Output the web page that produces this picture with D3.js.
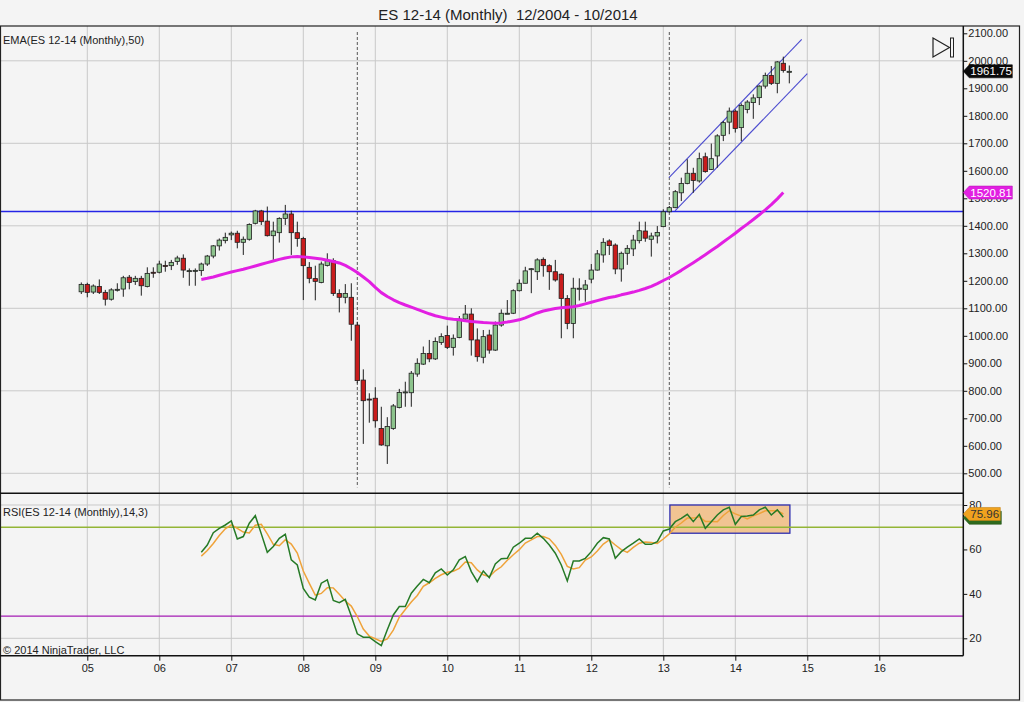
<!DOCTYPE html>
<html>
<head>
<meta charset="utf-8">
<script src="https://cdn.jsdelivr.net/npm/d3@7"></script>
<style>
  html, body { margin: 0; padding: 0; background: #f4f4f4; }
  svg { display: block; font-family: "Liberation Sans", Arial, sans-serif; }
</style>
</head>
<body>
<div id="chart"></div>
<script>
// one bar per month, first bar = Dec 2004, last = Oct 2014
const firstMonth = new Date(2004, 11, 1)

const open = [
  1160, 1187, 1159, 1179, 1158, 1133, 1167, 1170, 1213, 1197, 1209, 1179, 1231, 1231, 1256, 1255, 1270, 1282, 1237, 1237,
  1237, 1261, 1290, 1327, 1346, 1367, 1373, 1340, 1351, 1409, 1454, 1417, 1364, 1375, 1427, 1443, 1375, 1354, 1249, 1208,
  1194, 1256, 1273, 1154, 1140, 1140, 1039, 839, 770, 773, 663, 600, 663, 739, 794, 793, 861, 897, 936, 916,
  976, 1001, 958, 994, 1061, 1079, 985, 922, 1003, 948, 1039, 1082, 1082, 1164, 1191, 1241, 1233, 1278, 1255, 1233,
  1224, 1136, 1045, 1173, 1169, 1206, 1239, 1294, 1345, 1330, 1243, 1300, 1316, 1346, 1381, 1351, 1363, 1397, 1451, 1466,
  1520, 1554, 1591, 1563, 1651, 1605, 1654, 1729, 1777, 1817, 1757, 1823, 1848, 1866, 1908, 1947, 1918, 1991, 1960
]
const high = [
  1194, 1193, 1187, 1205, 1167, 1173, 1191, 1218, 1221, 1218, 1218, 1249, 1249, 1273, 1273, 1276, 1291, 1296, 1245, 1245,
  1266, 1294, 1330, 1354, 1375, 1379, 1382, 1361, 1409, 1458, 1458, 1470, 1415, 1431, 1476, 1455, 1415, 1360, 1268, 1255,
  1270, 1300, 1282, 1169, 1188, 1191, 1051, 878, 791, 813, 742, 704, 752, 807, 833, 872, 918, 961, 985, 994,
  1009, 1037, 1005, 1072, 1112, 1100, 1027, 1021, 1022, 1052, 1096, 1130, 1169, 1205, 1251, 1246, 1282, 1285, 1260, 1276,
  1227, 1148, 1211, 1209, 1203, 1261, 1312, 1355, 1351, 1336, 1306, 1330, 1367, 1415, 1415, 1375, 1399, 1460, 1472, 1530,
  1575, 1642, 1611, 1666, 1666, 1699, 1733, 1781, 1830, 1823, 1845, 1857, 1878, 1911, 1957, 1981, 1999, 2015, 1983
]
const low = [
  1152, 1140, 1152, 1152, 1110, 1128, 1161, 1142, 1169, 1185, 1146, 1176, 1211, 1227, 1233, 1239, 1258, 1211, 1182, 1182,
  1218, 1254, 1282, 1310, 1336, 1348, 1318, 1294, 1346, 1405, 1403, 1361, 1276, 1339, 1403, 1294, 1324, 1130, 1191, 1129,
  1191, 1252, 1145, 1085, 1118, 982, 827, 607, 684, 666, 600, 534, 658, 736, 742, 742, 851, 894, 904, 912,
  967, 952, 928, 991, 1058, 928, 906, 900, 935, 945, 1033, 1079, 1079, 1161, 1191, 1155, 1203, 1215, 1167, 1197,
  991, 1024, 991, 1128, 1124, 1191, 1237, 1266, 1294, 1224, 1197, 1258, 1290, 1336, 1342, 1288, 1336, 1395, 1448, 1464,
  1490, 1551, 1520, 1557, 1593, 1603, 1611, 1708, 1733, 1739, 1708, 1809, 1789, 1839, 1899, 1912, 1882, 1957, 1918
]
const close = [
  1187, 1158, 1181, 1158, 1133, 1167, 1169, 1211, 1194, 1209, 1182, 1227, 1230, 1261, 1255, 1267, 1283, 1239, 1237, 1238,
  1261, 1290, 1327, 1348, 1358, 1373, 1340, 1351, 1405, 1454, 1415, 1364, 1381, 1427, 1443, 1375, 1354, 1255, 1209, 1198,
  1261, 1273, 1154, 1140, 1154, 1042, 837, 764, 768, 691, 603, 670, 745, 794, 796, 864, 900, 936, 916, 979,
  997, 958, 991, 1061, 1079, 985, 924, 997, 948, 1039, 1082, 1082, 1164, 1191, 1236, 1244, 1276, 1255, 1233, 1203,
  1136, 1045, 1173, 1173, 1185, 1239, 1298, 1340, 1328, 1243, 1300, 1318, 1348, 1382, 1355, 1363, 1376, 1451, 1466, 1524,
  1554, 1591, 1565, 1644, 1597, 1644, 1727, 1775, 1817, 1754, 1838, 1850, 1865, 1908, 1947, 1918, 1996, 1965, 1961.75
]

// indicators are plotted from bar 20 (Aug 2006) up to bar 117 (Sep 2014)
const indicatorStart = 20
const ema50 = [
  1205, 1209, 1214, 1220, 1226, 1232, 1237, 1242, 1248, 1254, 1260, 1266, 1272, 1278, 1283, 1287, 1288, 1287, 1285, 1282,
  1279, 1275, 1270, 1265, 1256, 1244, 1230, 1214, 1197, 1176, 1157, 1143, 1131, 1121, 1112, 1104, 1096, 1088, 1080, 1073,
  1068, 1063, 1060, 1058, 1055, 1052, 1050, 1048, 1047, 1046, 1047, 1050, 1054, 1058, 1065, 1074, 1083, 1090, 1095, 1099,
  1102, 1104, 1106, 1110, 1116, 1122, 1128, 1134, 1139, 1143, 1149, 1154, 1159, 1165, 1172, 1180, 1190, 1201, 1212, 1225,
  1238, 1252, 1266, 1280, 1295, 1310, 1325, 1341, 1357, 1373, 1390, 1406, 1423, 1440, 1458, 1477, 1498, 1520.81
]
const rsi = [
  58.7, 62, 67.5, 69.5, 71, 72.8, 64.7, 65.8, 71.8, 75.2, 67, 58.7, 61.3, 65, 66.8, 55.3, 53, 42.5, 38.5, 37.3,
  44.8, 46.3, 37, 36, 37.5, 30, 22, 20.5, 20.5, 18.5, 16.7, 23.8, 30.5, 34.3, 34.3, 40.3, 43.5, 46.5, 45, 49.5,
  51.2, 48.5, 50.8, 55.3, 56.8, 50, 45.5, 50.3, 47.3, 53.5, 55.8, 56, 61, 62.8, 65, 65, 67.3, 65, 62, 58.3,
  53, 45.8, 54.8, 54.8, 56, 59, 62.8, 65.3, 64.7, 56, 59, 61, 62.8, 64.7, 62.3, 62.3, 63.5, 68.3, 69.2, 72.5,
  74, 75.8, 72.5, 75.8, 69.5, 72.5, 75.5, 77.8, 79, 71.3, 74.8, 75, 75.5, 77.8, 79, 75.5, 77.8, 74.5
]
const rsiAvg = [
  57, 59.5, 62.7, 66.3, 69.3, 71.1, 69.5, 67.8, 67.4, 70.9, 71.3, 67, 62.3, 61.7, 64.4, 62.4, 58.4, 50.3, 44.7, 39.4,
  40.2, 42.8, 42.7, 39.8, 36.8, 34.5, 29.8, 24.2, 21, 19.8, 18.6, 19.7, 23.7, 29.5, 33, 36.3, 39.3, 43.4, 45, 47,
  48.6, 49.7, 50.2, 51.5, 54.3, 54, 50.8, 48.6, 47.7, 50.4, 52.2, 55.1, 57.6, 59.9, 62.9, 64.3, 65.8, 65.8, 64.8, 61.8,
  57.8, 52.4, 51.2, 51.8, 55.2, 56.6, 59.3, 62.4, 64.3, 62, 59.9, 58.7, 60.9, 62.8, 63.3, 63.1, 62.7, 64.7, 67, 70,
  71.9, 74.1, 74.1, 74.7, 72.6, 72.6, 72.5, 75.3, 77.4, 76, 75, 73.7, 75.1, 76.1, 77.4, 77.4, 77.4, 75.96
]

// axis ticks
const priceTicks = [500, 600, 700, 800, 900, 1000, 1100, 1200, 1300, 1400, 1500, 1600, 1700, 1800, 1900, 2000, 2100]
const priceGrid = [500, 800, 1100, 1400, 1700, 2000]
const rsiTicks = [20, 40, 60, 80]
const rsiGrid = [20, 80]
const yearLabels = ['05', '06', '07', '08', '09', '10', '11', '12', '13', '14', '15', '16']

// drawings on the chart (bar index, value)
const levelLine = 1452
const channelUpper = [[97.95, 1575], [120.07, 2078]]
const channelLower = [[98.95, 1454], [121, 1953]]
const markerBars = [46, 98]
const rsiBox = { from: 98.1, to: 118.1, top: 80, bottom: 67.3 }
const rsiOverbought = 70
const rsiOversold = 30

const W = 1024, H = 702
const plotRight = 963.3
const mainTop = 26, mainBottom = 493.3
const rsiTop = 493.3, rsiBottom = 655.7

const svg = d3.select('#chart').append('svg')
  .attr('width', W)
  .attr('height', H)

svg.append('rect').attr('width', W).attr('height', H).attr('fill', '#f4f4f4')

const x = d3.scaleLinear().domain([-13.55, 147]).range([0, plotRight])
const y = d3.scaleLinear().domain([500, 2100]).range([473.3, 33.3])
const yr = d3.scaleLinear().domain([20, 80]).range([638.3, 505])

const defs = svg.append('defs')
defs.append('clipPath').attr('id', 'clipMain')
  .append('rect').attr('x', 0).attr('y', mainTop).attr('width', plotRight).attr('height', mainBottom - mainTop)
defs.append('clipPath').attr('id', 'clipRsi')
  .append('rect').attr('x', 0).attr('y', rsiTop).attr('width', plotRight).attr('height', rsiBottom - rsiTop)

const barDate = (i) => d3.timeMonth.offset(firstMonth, i)
// january bars -> year gridlines
const yearBars = yearLabels.map((lab) => {
  const target = new Date(2000 + Number(lab), 0, 1)
  return d3.timeMonth.count(firstMonth, target)
})

// title
svg.append('text')
  .attr('x', 508).attr('y', 19.5)
  .attr('text-anchor', 'middle')
  .attr('font-size', 15)
  .attr('fill', '#222')
  .style('white-space', 'pre')
  .text('ES 12-14 (Monthly)  12/2004 - 10/2014')

// ---------- main panel ----------
const main = svg.append('g').attr('clip-path', 'url(#clipMain)')

main.selectAll('.vgrid').data(yearBars).join('line')
  .attr('x1', d => x(d)).attr('x2', d => x(d))
  .attr('y1', mainTop).attr('y2', mainBottom)
  .attr('stroke', '#c9c9c9')

main.selectAll('.hgrid').data(priceGrid).join('line')
  .attr('x1', 0).attr('x2', plotRight)
  .attr('y1', d => y(d)).attr('y2', d => y(d))
  .attr('stroke', '#c9c9c9')

// dashed markers
main.selectAll('.marker').data(markerBars).join('line')
  .attr('x1', d => x(d)).attr('x2', d => x(d))
  .attr('y1', mainTop + 6).attr('y2', mainBottom - 6)
  .attr('stroke', '#555')
  .attr('stroke-dasharray', '3,2')

// horizontal level
main.append('line')
  .attr('x1', 0).attr('x2', plotRight)
  .attr('y1', y(levelLine)).attr('y2', y(levelLine))
  .attr('stroke', '#2424e6').attr('stroke-width', 1.5)

// regression channel
const segLine = d3.line().x(d => x(d[0])).y(d => y(d[1]))
main.selectAll('.channel').data([channelUpper, channelLower]).join('path')
  .attr('d', segLine)
  .attr('fill', 'none')
  .attr('stroke', '#4b4bcf')
  .attr('stroke-width', 1.1)

// candles
const bars = d3.range(open.length)
const bodyW = 4.4
const candle = main.selectAll('.candle').data(bars).join('g')
candle.append('line')
  .attr('x1', i => x(i)).attr('x2', i => x(i))
  .attr('y1', i => y(high[i])).attr('y2', i => y(low[i]))
  .attr('stroke', '#1e1e1e').attr('stroke-width', 1)
candle.append('rect')
  .attr('x', i => x(i) - bodyW / 2)
  .attr('width', bodyW)
  .attr('y', i => y(Math.max(open[i], close[i])))
  .attr('height', i => Math.max(1, Math.abs(y(open[i]) - y(close[i]))))
  .attr('fill', i => close[i] >= open[i] ? '#8cc38c' : '#c91c1c')
  .attr('stroke', '#1e1e1e')
  .attr('stroke-width', 0.8)

// EMA(50)
const idxLine = (scale) => d3.line().x((d, k) => x(indicatorStart + k)).y(d => scale(d))
main.append('path')
  .attr('d', idxLine(y)(ema50))
  .attr('fill', 'none')
  .attr('stroke', '#e21fe2')
  .attr('stroke-width', 3)
  .attr('stroke-linejoin', 'round')

// play icon top right
svg.append('path')
  .attr('d', 'M933,38 L949.5,47.5 L933,57 Z')
  .attr('fill', 'none').attr('stroke', '#222').attr('stroke-width', 1.2)
svg.append('rect')
  .attr('x', 950.5).attr('y', 38).attr('width', 3).attr('height', 19)
  .attr('fill', 'none').attr('stroke', '#222').attr('stroke-width', 1)

svg.append('text')
  .attr('x', 3).attr('y', 40).attr('dy', '0.35em')
  .attr('font-size', 11).attr('fill', '#222')
  .text('EMA(ES 12-14 (Monthly),50)')

// ---------- RSI panel ----------
const rsiG = svg.append('g').attr('clip-path', 'url(#clipRsi)')

rsiG.selectAll('.vgrid').data(yearBars).join('line')
  .attr('x1', d => x(d)).attr('x2', d => x(d))
  .attr('y1', rsiTop).attr('y2', rsiBottom)
  .attr('stroke', '#c9c9c9')

rsiG.selectAll('.hgrid').data(rsiGrid).join('line')
  .attr('x1', 0).attr('x2', plotRight)
  .attr('y1', d => yr(d)).attr('y2', d => yr(d))
  .attr('stroke', '#c9c9c9')

rsiG.append('rect')
  .attr('x', x(rsiBox.from)).attr('width', x(rsiBox.to) - x(rsiBox.from))
  .attr('y', yr(rsiBox.top)).attr('height', yr(rsiBox.bottom) - yr(rsiBox.top))
  .attr('fill', '#f0bb80').attr('fill-opacity', 0.85)
  .attr('stroke', '#2f2fb0').attr('stroke-width', 1.3)

rsiG.append('line')
  .attr('x1', 0).attr('x2', plotRight)
  .attr('y1', yr(rsiOverbought)).attr('y2', yr(rsiOverbought))
  .attr('stroke', '#93b536').attr('stroke-width', 1.4)
rsiG.append('line')
  .attr('x1', 0).attr('x2', plotRight)
  .attr('y1', yr(rsiOversold)).attr('y2', yr(rsiOversold))
  .attr('stroke', '#a41db4').attr('stroke-width', 1.4)

rsiG.append('path')
  .attr('d', idxLine(yr)(rsiAvg))
  .attr('fill', 'none').attr('stroke', '#efa33a').attr('stroke-width', 1.5)
rsiG.append('path')
  .attr('d', idxLine(yr)(rsi))
  .attr('fill', 'none').attr('stroke', '#267a26').attr('stroke-width', 1.5)

svg.append('text')
  .attr('x', 3).attr('y', 511.7).attr('dy', '0.35em')
  .attr('font-size', 11).attr('fill', '#222')
  .text('RSI(ES 12-14 (Monthly),14,3)')
svg.append('text')
  .attr('x', 3).attr('y', 650.5).attr('dy', '0.35em')
  .attr('font-size', 11).attr('fill', '#222')
  .text('© 2014 NinjaTrader, LLC')

// ---------- axes ----------
const priceAxis = d3.axisRight(y).tickValues(priceTicks).tickSize(4).tickPadding(1).tickFormat(d3.format('.2f'))
const rsiAxis = d3.axisRight(yr).tickValues(rsiTicks).tickSize(4).tickPadding(2).tickFormat(d3.format('d'))
const timeAxis = d3.axisBottom(x).tickValues(yearBars).tickSize(5).tickPadding(4)
  .tickFormat(i => d3.timeFormat('%y')(barDate(i)))

function styleAxis (g) {
  g.select('.domain').remove()
  g.selectAll('line').attr('stroke', '#111')
  g.selectAll('text').attr('font-size', 11).attr('fill', '#222')
    .attr('font-family', '"Liberation Sans", Arial, sans-serif')
}
svg.append('g').attr('transform', `translate(${plotRight},0)`).call(priceAxis).call(styleAxis)
svg.append('g').attr('transform', `translate(${plotRight},0)`).call(rsiAxis).call(styleAxis)
svg.append('g').attr('transform', `translate(0,${rsiBottom})`).call(timeAxis).call(styleAxis)

// panel borders and outer frame
svg.append('rect')
  .attr('x', 0.5).attr('y', mainTop).attr('width', 1019).attr('height', 700 - mainTop)
  .attr('fill', 'none').attr('stroke', '#222').attr('stroke-width', 1.2)
svg.append('line').attr('x1', 0).attr('x2', plotRight).attr('y1', mainBottom).attr('y2', mainBottom)
  .attr('stroke', '#111').attr('stroke-width', 1.5)
svg.append('line').attr('x1', 0).attr('x2', plotRight).attr('y1', rsiBottom).attr('y2', rsiBottom)
  .attr('stroke', '#111').attr('stroke-width', 1.5)
svg.append('line').attr('x1', plotRight).attr('x2', plotRight).attr('y1', mainTop).attr('y2', rsiBottom)
  .attr('stroke', '#111').attr('stroke-width', 1.5)

// value tags on the right axis (the green RSI tag sits hidden under the orange one)
function drawTag (yPos, label, fill, color, width) {
  const x0 = plotRight, h = 6.5
  svg.append('path')
    .attr('d', `M${x0},${yPos} L${x0 + 6},${yPos - h} L${x0 + width},${yPos - h} L${x0 + width},${yPos + h} L${x0 + 6},${yPos + h} Z`)
    .attr('fill', fill)
    .attr('stroke', d3.color(fill).darker(0.6))
    .attr('stroke-width', 0.6)
  if (label) {
    svg.append('text')
      .attr('x', x0 + 7).attr('y', yPos).attr('dy', '0.35em')
      .attr('font-size', 11.5).attr('fill', color)
      .text(label)
  }
}
const lastBar = close.length - 1
const lastInd = ema50.length - 1
drawTag(y(close[lastBar]), d3.format('.2f')(close[lastBar]), '#0a0a0a', '#fff', 49)
drawTag(y(ema50[lastInd]), d3.format('.2f')(ema50[lastInd]), '#e21fe2', '#fff', 49)
drawTag(yr(rsi[lastInd]) + 0.5, null, '#2f6b1e', '#2f6b1e', 38)
drawTag(yr(rsiAvg[lastInd]), d3.format('.2f')(rsiAvg[lastInd]), '#f0a21e', '#333', 37)
</script>
</body>
</html>
